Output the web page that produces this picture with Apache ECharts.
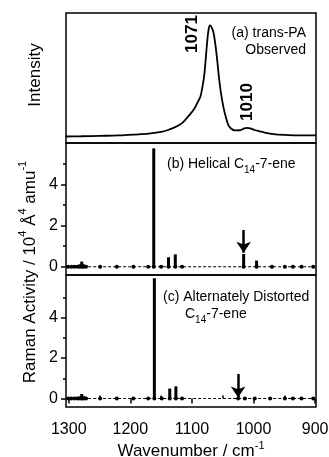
<!DOCTYPE html>
<html><head><meta charset="utf-8">
<script src="https://cdn.jsdelivr.net/npm/echarts@6/dist/echarts.min.js"></script>
<style>html,body{margin:0;padding:0;background:#fff}#c{width:329px;height:457px}</style>
</head><body><div id="c"></div>
<script>
// ---- data ----
const xTickLabels = [1300, 1200, 1100, 1000, 900];
const xMinorTicks = [1250, 1150, 1050, 950];
const yTickLabels = [0, 2, 4];
const yMinorTicks = [1, 3, 5];

// (a) observed trans-PA Raman spectrum
const obsWavenumber = [1305,1280,1250,1220,1195,1170,1150,1140,1130,1120,1113,1105,1097,1090,1086,1083,1080,1077,1075,1073,1071,1068,1065,1062,1059,1056,1053,1049,1045,1041,1036,1030,1022,1015,1010,1004,998,990,980,968,950,925,898];
const obsIntensity  = [0.050,0.052,0.055,0.058,0.065,0.072,0.086,0.098,0.116,0.140,0.167,0.210,0.257,0.320,0.360,0.430,0.520,0.680,0.790,0.870,0.905,0.890,0.850,0.760,0.640,0.500,0.390,0.280,0.200,0.140,0.110,0.097,0.098,0.112,0.117,0.110,0.100,0.090,0.078,0.068,0.062,0.058,0.058];
const peakLabels = [1071, 1010];

// (b) helical C14-7-ene
const helicalWavenumber = [1301,1296,1291,1286,1282,1279,1276,1272,1249,1222,1195,1171,1162,1150,1138,1127,1116,1016,995,970,949,936,922,903];
const helicalActivity   = [0.04,0.05,0.05,0.08,0.12,0.25,0.12,0.06,0.02,0.02,0.02,0.02,5.74,0.02,0.46,0.60,0.03,0.62,0.30,0.02,0.03,0.04,0.02,0.03];
const helicalArrow = 1016;

// (c) alternately distorted C14-7-ene
const distortedWavenumber = [1301,1296,1291,1286,1282,1279,1276,1272,1249,1222,1195,1171,1161,1149,1136,1126,1116,1025,1014,998,973,949,936,922,903];
const distortedActivity   = [0.04,0.05,0.06,0.08,0.10,0.22,0.12,0.06,0.02,0.02,0.02,0.02,5.94,0.02,0.49,0.60,0.02,0.02,0.04,0.03,0.02,0.03,0.06,0.03,0.04];
const distortedArrow = 1025;

// ---- chart ----
const FONT = '"Liberation Sans", Arial, sans-serif';
const zip = (a, b) => a.map((v, i) => [v, b[i]]);
const zeros = a => a.map(v => [v, 0]);

const xBase = (g) => ({gridIndex: g, type: 'value', min: 898.5, max: 1304.5, inverse: true,
  axisLine: {show: false}, splitLine: {show: false}, axisLabel: {show: false}, axisTick: {show: false}});

const xAxes = [
  xBase(0), xBase(1),
  Object.assign(xBase(2), {
    axisLabel: {show: true, customValues: xTickLabels, formatter: v => String(v), color: '#000', fontSize: 16, fontFamily: FONT, margin: 15},
    axisTick: {show: true, customValues: xTickLabels, length: 5, lineStyle: {color: '#000', width: 1.5}},
    name: '{m|Wavenumber / cm}{s|-1}', nameLocation: 'middle', nameGap: 33,
    nameTextStyle: {rich: {
      m: {fontSize: 17, fontFamily: FONT, color: '#000', lineHeight: 20, verticalAlign: 'bottom'},
      s: {fontSize: 11, fontFamily: FONT, color: '#000', lineHeight: 10, verticalAlign: 'top'}}}
  }),
  Object.assign(xBase(2), {
    axisTick: {show: true, customValues: xMinorTicks, length: 3, lineStyle: {color: '#000', width: 1.5}}
  })
];

const yMain = (g, min, max) => ({gridIndex: g, type: 'value', min: min, max: max,
  axisLine: {show: false}, splitLine: {show: false},
  axisLabel: {show: true, customValues: yTickLabels, color: '#000', fontSize: 16, fontFamily: FONT, margin: 8},
  axisTick: {show: true, customValues: yTickLabels, length: 5, lineStyle: {color: '#000', width: 1.5}}});
const yMinor = (g, min, max) => ({gridIndex: g, type: 'value', min: min, max: max, position: 'left',
  axisLine: {show: false}, splitLine: {show: false}, axisLabel: {show: false},
  axisTick: {show: true, customValues: yMinorTicks, length: 3, lineStyle: {color: '#000', width: 1.5}}});

const yAxes = [
  {gridIndex: 0, type: 'value', min: 0, max: 1, axisLine: {show: false}, splitLine: {show: false}, axisLabel: {show: false}, axisTick: {show: false}},
  yMain(1, -0.4, 6.0), yMinor(1, -0.4, 6.0),
  yMain(2, -0.42, 6.1), yMinor(2, -0.42, 6.1)
];

const gridStyle = {show: true, borderColor: '#000', borderWidth: 1.5, left: 66, width: 250,
  containLabel: false, outerBoundsMode: 'none'};

function arrowLine(x, y1, y2) {
  return {silent: true, symbol: ['none', 'arrow'], symbolSize: 11, label: {show: false},
    lineStyle: {color: '#000', width: 2.5, type: 'solid'},
    data: [[{coord: [x, y1]}, {coord: [x, y2]}]]};
}

const option = {
  animation: false,
  backgroundColor: '#fff',
  grid: [
    Object.assign({top: 13, height: 130}, gridStyle),
    Object.assign({top: 143, height: 132}, gridStyle),
    Object.assign({top: 275, height: 132}, gridStyle)
  ],
  xAxis: xAxes,
  yAxis: yAxes,
  series: [
    {type: 'line', xAxisIndex: 0, yAxisIndex: 0, data: zip(obsWavenumber, obsIntensity), showSymbol: false, smooth: 0.3,
      lineStyle: {color: '#000', width: 1.8}},
    {type: 'bar', xAxisIndex: 1, yAxisIndex: 1, data: zip(helicalWavenumber, helicalActivity), barWidth: 3,
      itemStyle: {color: '#000'}},
    {type: 'line', xAxisIndex: 1, yAxisIndex: 1, data: zeros(helicalWavenumber), symbol: 'circle', symbolSize: 4,
      itemStyle: {color: '#000'}, lineStyle: {color: '#000', width: 1, type: [3, 2]},
      markLine: arrowLine(helicalArrow, 1.78, 0.68)},
    {type: 'bar', xAxisIndex: 2, yAxisIndex: 3, data: zip(distortedWavenumber, distortedActivity), barWidth: 3,
      itemStyle: {color: '#000'}},
    {type: 'line', xAxisIndex: 2, yAxisIndex: 3, data: zeros(distortedWavenumber), symbol: 'circle', symbolSize: 4,
      itemStyle: {color: '#000'}, lineStyle: {color: '#000', width: 1, type: [3, 2]},
      markLine: arrowLine(distortedArrow, 1.21, 0.05)}
  ],
  graphic: [
    {type: 'text', x: 306, y: 33, style: {text: '(a) trans-PA', font: '14px ' + FONT, fill: '#000', textAlign: 'right', textVerticalAlign: 'middle'}},
    {type: 'text', x: 306, y: 50, style: {text: 'Observed', font: '14px ' + FONT, fill: '#000', textAlign: 'right', textVerticalAlign: 'middle'}},
    {type: 'text', x: 192, y: 34, rotation: Math.PI / 2, style: {text: String(peakLabels[0]), font: 'bold 17px ' + FONT, fill: '#000', textAlign: 'center', textVerticalAlign: 'middle'}},
    {type: 'text', x: 247, y: 102, rotation: Math.PI / 2, style: {text: String(peakLabels[1]), font: 'bold 17px ' + FONT, fill: '#000', textAlign: 'center', textVerticalAlign: 'middle'}},
    {type: 'text', x: 35, y: 75, rotation: Math.PI / 2, style: {text: 'Intensity', font: '17px ' + FONT, fill: '#000', textAlign: 'center', textVerticalAlign: 'middle'}},
    {type: 'text', x: 167, y: 166, style: {text: '{m|(b) Helical C}{s|14}{m|-7-ene}', textAlign: 'left', textVerticalAlign: 'middle',
      rich: {m: {font: '14px ' + FONT, fill: '#000', lineHeight: 18, verticalAlign: 'top'}, s: {font: '10px ' + FONT, fill: '#000', lineHeight: 18, verticalAlign: 'bottom'}}}},
    {type: 'text', x: 163, y: 297, style: {text: '(c) Alternately Distorted', font: '14px ' + FONT, fill: '#000', textAlign: 'left', textVerticalAlign: 'middle'}},
    {type: 'text', x: 185, y: 316, style: {text: '{m|C}{s|14}{m|-7-ene}', textAlign: 'left', textVerticalAlign: 'middle',
      rich: {m: {font: '14px ' + FONT, fill: '#000', lineHeight: 18, verticalAlign: 'top'}, s: {font: '10px ' + FONT, fill: '#000', lineHeight: 18, verticalAlign: 'bottom'}}}},
    {type: 'text', x: 28, y: 272, rotation: Math.PI / 2, style: {text: '{m|Raman Activity / 10}{s|4}{m| Å}{s|4}{m| amu}{s|-1}', textAlign: 'center', textVerticalAlign: 'middle',
      rich: {m: {font: '17px ' + FONT, fill: '#000', lineHeight: 22, verticalAlign: 'bottom'}, s: {font: '11px ' + FONT, fill: '#000', lineHeight: 22, verticalAlign: 'top'}}}}
  ]
};

const chart = echarts.init(document.getElementById('c'), null, {renderer: 'canvas'});
chart.setOption(option);
</script>
</body></html>
